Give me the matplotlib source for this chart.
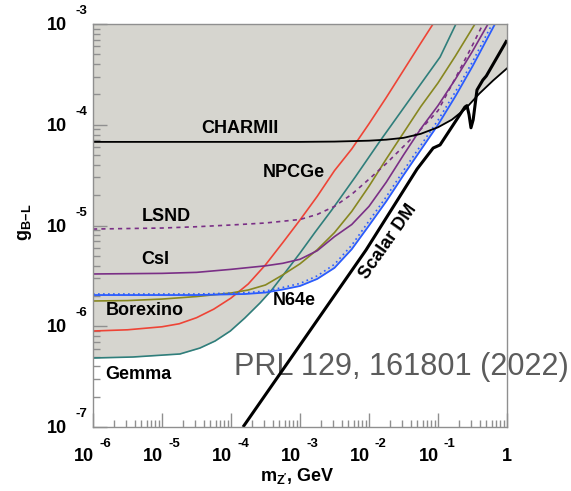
import numpy as np
import matplotlib
matplotlib.use('Agg')
import matplotlib.pyplot as plt
from matplotlib.ticker import LogLocator, NullFormatter

plt.rcParams['font.family'] = ['Liberation Sans', 'DejaVu Sans']
plt.rcParams['mathtext.fontset'] = 'custom'
plt.rcParams['mathtext.rm'] = 'Liberation Sans'
plt.rcParams['mathtext.bf'] = 'Liberation Sans:bold'
plt.rcParams['mathtext.it'] = 'Liberation Sans:italic'

# ------------------------------------------------------------------
# Curvas (log10 m [GeV], log10 g)
gemma_logm = [-6.0, -5.42, -4.74, -4.45, -4.23, -4.01, -3.80, -3.58, -3.41, -3.22, -3.0, -2.78,
              -2.54, -2.20, -1.84, -1.55, -1.26, -0.97, -0.74]
gemma_logg = [-6.315, -6.305, -6.275, -6.216, -6.146, -6.047, -5.918, -5.769, -5.640, -5.471,
              -5.273, -5.065, -4.846, -4.519, -4.161, -3.883, -3.605, -3.328, -3.0]

red_logm = [-6.0, -5.5, -5.0, -4.75, -4.5, -4.25, -4.0, -3.75, -3.5, -3.25, -3.0, -2.75, -2.5,
            -2.25, -2.0, -1.75, -1.5, -1.25, -1.072]
red_logg = [-6.047, -6.035, -6.005, -5.975, -5.915, -5.83, -5.72, -5.58, -5.39, -5.17, -4.945,
            -4.71, -4.455, -4.24, -3.99, -3.73, -3.46, -3.19, -3.0]

borexino_logm = [-6.0, -5.5, -5.0, -4.5, -4.0, -3.75, -3.5, -3.25, -3.0, -2.75, -2.5, -2.25, -2.0,
                 -1.75, -1.5, -1.25, -1.0, -0.75, -0.464]
borexino_logg = [-5.749, -5.745, -5.73, -5.705, -5.67, -5.64, -5.59, -5.49, -5.38, -5.24, -5.07,
                 -4.86, -4.61, -4.34, -4.08, -3.82, -3.585, -3.32, -3.0]

csi_logm = [-6.0, -5.0, -4.5, -4.0, -3.5, -3.25, -3.0, -2.75, -2.5, -2.25, -2.0, -1.75, -1.5,
            -1.25, -1.0, -0.75, -0.5, -0.275]
csi_logg = [-5.481, -5.475, -5.465, -5.435, -5.40, -5.375, -5.335, -5.25, -5.11, -4.99, -4.81,
            -4.57, -4.30, -4.04, -3.81, -3.55, -3.27, -3.0]

lsnd_logm = [-6.0, -5.0, -4.5, -4.0, -3.5, -3.0, -2.75, -2.5, -2.25, -2.0, -1.75, -1.5, -1.25,
             -1.0, -0.75, -0.5, -0.348]
lsnd_logg = [-5.035, -5.025, -5.012, -4.995, -4.975, -4.94, -4.89, -4.81, -4.69, -4.54, -4.385,
             -4.215, -4.045, -3.86, -3.54, -3.21, -3.0]

n64e_logm = [-6.0, -4.5, -3.8, -3.5, -3.25, -3.0, -2.75, -2.5, -2.25, -2.0, -1.75, -1.5, -1.25,
             -1.0, -0.75, -0.5, -0.174]
n64e_logg = [-5.69, -5.69, -5.68, -5.665, -5.635, -5.60, -5.53, -5.42, -5.235, -5.0, -4.76, -4.5,
             -4.25, -4.0, -3.72, -3.42, -3.0]

n64e_dot_logm = [-6.0, -4.5, -3.8, -3.5, -3.25, -3.0, -2.75, -2.5, -2.25, -2.0, -1.75, -1.5, -1.25,
                 -1.0, -0.75, -0.5, -0.215]
n64e_dot_logg = [-5.68, -5.68, -5.668, -5.65, -5.615, -5.575, -5.50, -5.385, -5.195, -4.955, -4.715,
                 -4.455, -4.205, -3.955, -3.675, -3.375, -3.0]

charm_logm = [-6.0, -3.0, -2.5, -2.0, -1.75, -1.5, -1.25, -1.0, -0.8, -0.6, -0.4, -0.2, 0.0]
charm_logg = [-4.17, -4.17, -4.167, -4.158, -4.148, -4.13, -4.09, -4.025, -3.95, -3.84, -3.69,
              -3.56, -3.44]

sdm_logm = [-3.826, -2.043, -1.304, -1.07, -0.97, -0.61, -0.58, -0.55, -0.522, -0.49, -0.435,
            -0.35, -0.30, 0.0]
sdm_logg = [-7.0, -5.243, -4.44, -4.231, -4.20, -3.824, -3.81, -3.90, -4.03, -3.95, -3.655,
            -3.556, -3.516, -3.16]

# rotulos das curvas (texto, log m, log g)
rotulos = [('CHARMII', -3.87, -4.04), ('NPCGe', -3.087, -4.469), ('LSND', -4.942, -4.906),
           ('CsI', -5.101, -5.342), ('Borexino', -5.246, -5.839), ('Gemma', -5.348, -6.474),
           ('N64e', -3.087, -5.749)]

xticks_exp = [-6, -5, -4, -3, -2, -1, 0]
yticks_exp = [-3, -4, -5, -6, -7]
# ------------------------------------------------------------------

fig = plt.figure(figsize=(5.71, 4.91), dpi=100)
ax = fig.add_axes([0.1629, 0.1303, 0.725, 0.8208])
ax.set_xscale('log')
ax.set_yscale('log')
ax.set_xlim(1e-6, 1.0)
ax.set_ylim(1e-7, 1e-3)

# regiao excluida (envelope inferior)
grade = np.linspace(-6, 0, 800)
curvas = [(gemma_logm, gemma_logg), (red_logm, red_logg), (borexino_logm, borexino_logg),
          (csi_logm, csi_logg), (lsnd_logm, lsnd_logg), (n64e_logm, n64e_logg),
          (charm_logm, charm_logg)]
env = np.full_like(grade, 0.0)
for lm, lg in curvas:
    env = np.minimum(env, np.interp(grade, lm, lg, right=0.0))
ax.fill_between(10**grade, 10**env, 1e-3, color='#d6d5cf', lw=0, zorder=1)

def p(lm, lg):
    return 10**np.array(lm), 10**np.array(lg)

ax.plot(*p(red_logm, red_logg), color='#ee4436', lw=1.2, zorder=3)
ax.plot(*p(gemma_logm, gemma_logg), color='#2f7e7b', lw=1.2, zorder=3)
ax.plot(*p(borexino_logm, borexino_logg), color='#878720', lw=1.2, zorder=3)
ax.plot(*p(lsnd_logm, lsnd_logg), color='#7a2f86', lw=1.2, ls=(0, (2.5, 2.5)), zorder=3)
ax.plot(*p(csi_logm, csi_logg), color='#7a2f86', lw=1.2, zorder=3)
ax.plot(*p(n64e_dot_logm, n64e_dot_logg), color='#2a5cff', lw=1.2, ls=(0, (1, 2)), zorder=3)
ax.plot(*p(n64e_logm, n64e_logg), color='#2a5cff', lw=1.3, zorder=3)
ax.plot(*p(charm_logm, charm_logg), color='black', lw=1.3, zorder=4)
ax.plot(*p(sdm_logm, sdm_logg), color='black', lw=2.2, zorder=5, solid_capstyle='butt')

for txt, lm, lg in rotulos:
    ax.text(10**lm, 10**lg, txt, fontsize=13, fontweight='bold', ha='center', va='center', zorder=6)
ax.text(10**-1.725, 10**-5.164, 'Scalar DM', fontsize=13, fontweight='bold', rotation=55,
        ha='center', va='center', rotation_mode='anchor', zorder=6)

ax.text(10**-3.95, 10**-6.484, 'PRL 129, 161801 (2022)', fontsize=22.1, color='#5c5c5c',
        ha='left', va='baseline', clip_on=False, zorder=2)

# eixos estilo ROOT
for s in ax.spines.values():
    s.set_color('#8f8f8f')
    s.set_linewidth(1.0)
    s.set_zorder(7)
ax.xaxis.set_major_locator(LogLocator(base=10, numticks=20))
ax.xaxis.set_minor_locator(LogLocator(base=10, subs=np.arange(2, 10), numticks=20))
ax.yaxis.set_major_locator(LogLocator(base=10, numticks=20))
ax.yaxis.set_minor_locator(LogLocator(base=10, subs=np.arange(2, 10), numticks=20))
ax.xaxis.set_major_formatter(NullFormatter())
ax.xaxis.set_minor_formatter(NullFormatter())
ax.yaxis.set_major_formatter(NullFormatter())
ax.yaxis.set_minor_formatter(NullFormatter())
ax.tick_params(which='major', direction='in', length=10, width=1, color='#8f8f8f')
ax.tick_params(which='minor', direction='in', length=5, width=1, color='#8f8f8f')

for e in xticks_exp:
    if e == 0:
        ax.annotate('1', xy=(1.0, 0), xycoords=('data', 'axes fraction'), xytext=(0, -29),
                    textcoords='offset pixels', ha='center', va='center', fontsize=13, fontweight='bold',
                    annotation_clip=False)
        continue
    ax.annotate('10', xy=(10.0**e, 0), xycoords=('data', 'axes fraction'), xytext=(1, -29),
                textcoords='offset pixels', ha='right', va='center', fontsize=13, fontweight='bold',
                annotation_clip=False)
    ax.annotate(str(e), xy=(10.0**e, 0), xycoords=('data', 'axes fraction'), xytext=(6, -17),
                textcoords='offset pixels', ha='left', va='center', fontsize=9.5, fontweight='bold',
                annotation_clip=False)

for e in yticks_exp:
    ax.annotate('10', xy=(0, 10.0**e), xycoords=('axes fraction', 'data'), xytext=(-26, -1.5),
                textcoords='offset pixels', ha='right', va='center', fontsize=13, fontweight='bold',
                annotation_clip=False)
    ax.annotate(str(e), xy=(0, 10.0**e), xycoords=('axes fraction', 'data'), xytext=(-18, 13),
                textcoords='offset pixels', ha='left', va='center', fontsize=9.5, fontweight='bold',
                annotation_clip=False)

fig.text(25 / 571, 1 - 222 / 491, r'$\mathbf{g}_{\mathbf{B\!-\!L}}$', rotation=90, fontsize=13,
         ha='center', va='center')
fig.text(297 / 571, 1 - 476 / 491, r'$\mathbf{m}_{\mathbf{Z^{\prime}}}$, GeV', fontsize=13,
         fontweight='bold', ha='center', va='center')

fig.savefig('out.png', dpi=100)
